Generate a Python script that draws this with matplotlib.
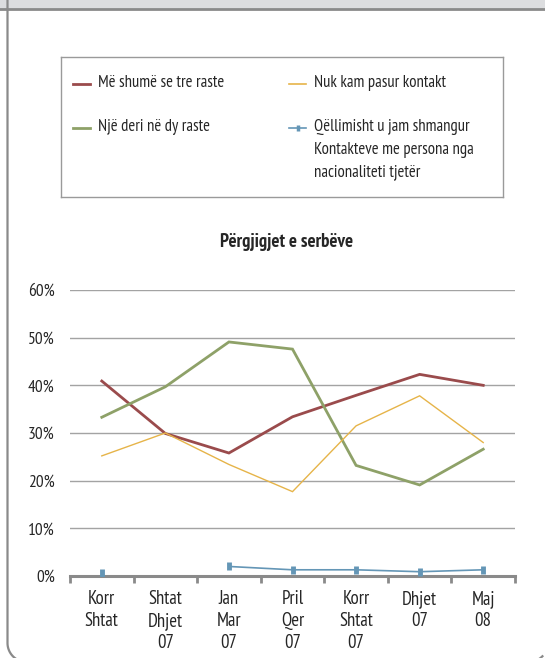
import numpy as np
import matplotlib
matplotlib.use("Agg")
import matplotlib.pyplot as plt
from matplotlib.patches import Rectangle

plt.rcParams['font.family'] = ['PT Sans Narrow', 'Fira Sans Condensed', 'Asap Condensed', 'DejaVu Sans']

# data (shares, 0..1)
categories = ["Korr\nShtat", "Shtat\nDhjet\n07", "Jan\nMar\n07", "Pril\nQer\n07",
              "Korr\nShtat\n07", "Dhjet\n07", "Maj\n08"]
tre_raste = [0.409, 0.299, 0.258, 0.334, 0.379, 0.423, 0.400]
dy_raste = [0.333, 0.397, 0.491, 0.476, 0.232, 0.191, 0.266]
pa_kontakt = [0.252, 0.300, 0.234, 0.177, 0.315, 0.378, 0.280]
shmangur = [0.007, np.nan, 0.020, 0.013, 0.013, 0.009, 0.013]

labels = ["Më shumë se tre raste", "Një deri në dy raste", "Nuk kam pasur kontakt",
          "Qëllimisht u jam shmangur\nKontakteve me persona nga\nnacionaliteti tjetër"]
title = "Përgjigjet e serbëve"
yticks = [0, 0.1, 0.2, 0.3, 0.4, 0.5, 0.6]

RED = "#9a4b4c"
GREEN = "#8ea168"
YELLOW = "#e6b449"
BLUE = "#6496b6"
TXT = "#262626"

styles = [
    dict(color=RED, lw=2.0),
    dict(color=GREEN, lw=2.0),
    dict(color=YELLOW, lw=1.0),
    dict(color=BLUE, lw=1.2, marker="|", ms=6, mew=3.5),
]
series = [tre_raste, dy_raste, pa_kontakt, shmangur]

fig = plt.figure(figsize=(5.45, 6.58), dpi=100)

# page decoration (pixels from top-left)
bg = fig.add_axes([0, 0, 1, 1], zorder=-5)
bg.set_xlim(0, 545)
bg.set_ylim(658, 0)
bg.axis("off")
bg.add_patch(Rectangle((0, 0), 545, 9, facecolor="#dcdddf", edgecolor="none"))
bg.plot([0, 545], [9, 9], color="#8a8a8a", lw=2)
# rounded frame: left side and the two bottom corners (right side is off the page)
r, left, right, bottom = 19, 7.5, 547.8, 662
t = np.linspace(0, np.pi / 2, 30)
t2 = np.linspace(0, 0.8, 20)
fx = np.concatenate([[left], left + r - r * np.cos(t), right - r + r * np.sin(t2)])
fy = np.concatenate([[0], bottom - r + r * np.sin(t), bottom - r + r * np.cos(t2)])
bg.plot(fx, fy, color="#8a8a8a", lw=1.6)

# main chart
ax = fig.add_axes([70 / 545, 1 - 576 / 658, 445 / 545, (576 - 290) / 658])
x = np.arange(len(categories))
for s, st in zip(series, styles):
    ax.plot(x, s, solid_joinstyle="miter", **st, zorder=3)

ax.set_xlim(-0.5, len(categories) - 0.5)
ax.set_ylim(0, 0.6)
ax.set_yticks(yticks)
ax.set_yticklabels([f"{int(round(v * 100))}%" for v in yticks])
for v in yticks[1:]:
    ax.axhline(v, color="#a3a3a3", lw=1, zorder=1)
for sp in ["left", "right", "top"]:
    ax.spines[sp].set_visible(False)
ax.spines["bottom"].set_color("#8a8a8a")
ax.spines["bottom"].set_linewidth(2.2)
ax.set_xticks(x)
ax.set_xticklabels(categories, linespacing=1.3)
ax.set_xticks(np.arange(len(categories) + 1) - 0.5, minor=True)
ax.tick_params(axis="x", which="major", length=0, pad=10, labelsize=13.5, labelcolor=TXT)
ax.tick_params(axis="x", which="minor", length=5, width=2, color="#8a8a8a", direction="out")
ax.tick_params(axis="y", length=0, pad=11, labelsize=12.5, labelcolor=TXT)
ax.patch.set_alpha(0)

fig.text(287 / 545, 1 - 242 / 658, title, ha="center", va="center",
         fontsize=13.5, fontweight="bold", color=TXT)

# legend box
lax = fig.add_axes([61 / 545, 1 - 197 / 658, 442 / 545, 140 / 658])
lax.set_xlim(0, 442)
lax.set_ylim(140, 0)
lax.set_xticks([])
lax.set_yticks([])
for sp in lax.spines.values():
    sp.set_color("#9a9a9a")
    sp.set_linewidth(1)
slots = [(12, 27), (12, 71), (228, 27), (228, 71)]
for (lx, ly), lab, st in zip(slots, labels, styles):
    hx = [lx, lx + 17]
    lax.plot(hx, [ly, ly], color=st["color"], lw=st["lw"] if st["lw"] > 1.5 else 1.2)
    if "marker" in st:
        lax.plot([lx + 8.5], [ly], color=st["color"], marker="|", ms=5, mew=2.5)
    lax.text(lx + 25, ly - 9, lab, ha="left", va="top", fontsize=12,
             color=TXT, linespacing=1.55)

fig.savefig("out.png", dpi=100)
